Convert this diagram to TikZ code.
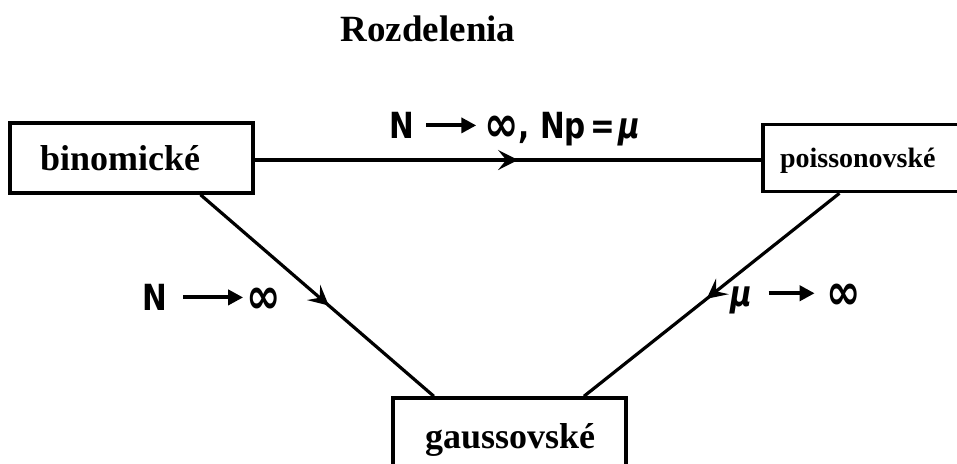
\documentclass[tikz,border=0pt]{standalone}
\usepackage{fontspec}
\usepackage{graphicx}
\setmainfont{Liberation Serif}
\newfontfamily\lblfont[FakeStretch=0.82]{DejaVu Sans}
\usetikzlibrary{arrows.meta,decorations.markings,calc}
\newcommand\larrow[1]{\tikz[x=1pt,y=1pt,baseline={(0,-0.36em)}]\draw[line width=4pt,-{Triangle[length=15pt,width=15pt]}] (0,0)--(#1,0);}
\newcommand\binf{\raisebox{-3.5pt}{\scalebox{1.4}{∞}}}
\tikzset{
  box/.style={draw, line width=3.5pt, inner ysep=0pt, align=left, text depth=0pt,
    font=\bfseries\fontsize{36}{40}\selectfont},
  conn/.style={line width=3.2pt},
  midarr/.style={postaction={decorate}, decoration={markings,
    mark=at position #1 with {\arrow{Stealth[length=20pt,width=20pt,inset=8pt]}}}},
  lbl/.style={inner sep=0pt, font=\lblfont\bfseries\fontsize{36}{40}\selectfont},
  ttl/.style={inner sep=0pt, font=\bfseries\fontsize{37}{40}\selectfont}
}
\begin{document}
\begin{tikzpicture}[x=1pt,y=-1pt]
\useasboundingbox (0,0) rectangle (957,463);
\clip (0,0) rectangle (957,463);
\node[ttl] (title) at (428,29) {Rozdelenia};
\node[box, inner xsep=30pt, text width=183pt, minimum height=70pt] (binom) at (131.5,158) {binomické};
\node[box, inner xsep=17pt, text width=186pt, minimum height=67pt, font=\bfseries\fontsize{28}{32}\selectfont] (poiss) at (873,158) {poissonovské};
\node[box, inner xsep=32pt, text width=169pt, minimum height=76pt] (gauss) at (509.5,436) {gaussovské};
\draw[conn, midarr=0.52] ([yshift=-2pt]binom.east) -- ([yshift=-2pt]poiss.west);
\draw[conn, midarr=0.55] ($(binom.south west)!0.78!(binom.south east)$) -- ($(gauss.north west)!0.18!(gauss.north east)$);
\draw[conn, midarr=0.52] ($(poiss.south west)!0.35!(poiss.south east)$) -- ($(gauss.north west)!0.815!(gauss.north east)$);
\node[lbl] (ltop) at (515,129) {N\hspace{10pt}\larrow{50pt}\hspace{6pt}\binf, Np\hspace{4pt}=\hspace{4pt}{\itshape μ}};
\node[lbl] (lleft) at (211.5,299) {N\hspace{14pt}\larrow{60pt}\hspace{1pt}\binf};
\node[lbl] (lright) at (796,299) {{\itshape μ}\hspace{14pt}\larrow{46pt}\hspace{10pt}\binf};
\end{tikzpicture}
\end{document}
